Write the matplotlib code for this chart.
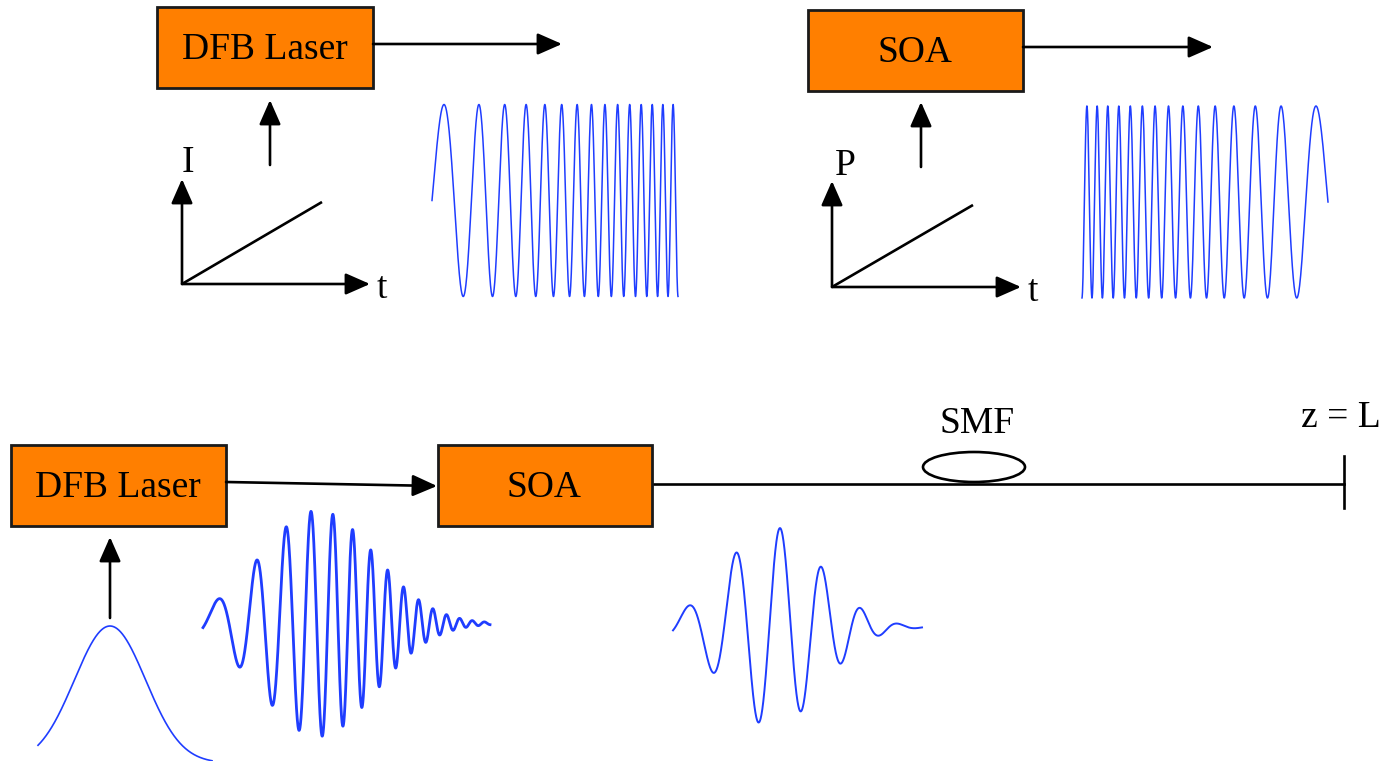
import numpy as np
import matplotlib
matplotlib.use("Agg")
import matplotlib.pyplot as plt
from matplotlib.patches import Rectangle, Ellipse

# ---------------- content / values ----------------
box_labels = ["DFB Laser", "SOA", "DFB Laser", "SOA"]
axis_labels_y = ["I", "P"]
axis_label_x = "t"
fiber_label = "SMF"
end_label = "z = L"

# chirped CW signal (top): phase = 2*pi*(f0*u + k*u^2), u in px
cw_f0 = 0.0188
cw_k = 1.672e-4
cw_amp = 96.0

# gaussian drive current (bottom)
gauss_amp = 137.0
gauss_sigma = 35.6

# chirped pulse out of DFB (bottom middle): half-cycles m = c1*dx + c2*dx^2
pulse1_c1, pulse1_c2 = 0.0428, 2.337e-4
pulse1_amp, pulse1_sigma = 113.0, 57.0

# pulse after SOA (bottom right)
pulse2_c1, pulse2_c2 = 0.0402, 3.5e-5
pulse2_amp, pulse2_sigma = 100.0, 48.0

# ---------------- styling ----------------
ORANGE = "#FF7F00"
EDGE = "#1a1a1a"
BLUE = "#1f3dff"
FONT = ["Liberation Serif", "DejaVu Serif"]
FS = 27

fig = plt.figure(figsize=(13.84, 7.61), dpi=100)
ax = fig.add_axes([0, 0, 1, 1])
ax.set_xlim(0, 1384)
ax.set_ylim(761, 0)
ax.axis("off")


def box(x0, y0, x1, y1, label, tx, ty):
    ax.add_patch(Rectangle((x0, y0), x1 - x0, y1 - y0, facecolor=ORANGE,
                           edgecolor=EDGE, lw=2.0, zorder=2))
    ax.text(tx, ty, label, ha="center", va="baseline", fontsize=FS,
            family=FONT, color="black", zorder=3)


def arrow(x0, y0, x1, y1):
    ax.annotate("", xy=(x1, y1), xytext=(x0, y0),
                arrowprops=dict(arrowstyle="-|>,head_length=0.75,head_width=0.33",
                                lw=1.9, color="black", shrinkA=0, shrinkB=0,
                                mutation_scale=20), zorder=3)


def label(x, y, s):
    ax.text(x, y, s, ha="center", va="baseline", fontsize=FS, family=FONT,
            color="black")


# ---------------- top-left: DFB laser with ramp current ----------------
box(157, 7, 373, 88, box_labels[0], 265, 59)
arrow(373, 44, 562, 44)
arrow(270, 165, 270, 100)
arrow(182, 284, 182, 179)
arrow(182, 284, 370, 284)
ax.plot([182, 322], [284, 202], color="black", lw=1.9, solid_capstyle="butt")
label(188, 172, axis_labels_y[0])
label(382, 298, axis_label_x)

u = np.linspace(0, 246, 3000)
cw = np.sin(2 * np.pi * (cw_f0 * u + cw_k * u ** 2))
ax.plot(432 + u, 200.5 - cw_amp * cw, color=BLUE, lw=1.1)

# ---------------- top-right: SOA with ramp power ----------------
box(808, 10, 1023, 91, box_labels[1], 915, 62)
arrow(1023, 47, 1213, 47)
arrow(921, 167, 921, 102)
arrow(832, 287, 832, 181)
arrow(832, 287, 1021, 287)
ax.plot([832, 973], [287, 205], color="black", lw=1.9, solid_capstyle="butt")
label(845, 175, axis_labels_y[1])
label(1033, 301, axis_label_x)

ax.plot(1328 - u, 202.0 - cw_amp * cw, color=BLUE, lw=1.1)

# ---------------- bottom: pulsed DFB -> SOA -> SMF ----------------
box(11, 445, 226, 526, box_labels[2], 118, 497)
box(438, 445, 652, 526, box_labels[3], 544, 497)
arrow(226, 482, 437, 486)
arrow(110, 618, 110, 537)
ax.plot([652, 1344], [484, 484], color="black", lw=1.9, zorder=1)
ax.plot([1344, 1344], [456, 508], color="black", lw=1.9)
ax.add_patch(Ellipse((974, 467), 102, 30, fill=False, edgecolor="black", lw=1.9))
label(977, 433, fiber_label)
label(1341, 427, end_label)

# gaussian current pulse
xg = np.linspace(38, 212, 800)
ax.plot(xg, 763 - gauss_amp * np.exp(-(xg - 110) ** 2 / (2 * gauss_sigma ** 2)),
        color=BLUE, lw=1.2)

# chirped pulse from DFB
xp = np.linspace(203, 490, 3000)
dx = xp - 218
m1 = pulse1_c1 * dx + pulse1_c2 * dx ** 2
env1 = np.exp(-(xp - 318) ** 2 / (2 * pulse1_sigma ** 2))
ax.plot(xp, 623.5 - pulse1_amp * env1 * np.cos(np.pi * m1), color=BLUE, lw=2.0)

# pulse after SOA
xq = np.linspace(673, 922, 2000)
dq = xq - 688
m2 = pulse2_c1 * dq + pulse2_c2 * dq ** 2
env2 = np.exp(-(xq - 773) ** 2 / (2 * pulse2_sigma ** 2))
ax.plot(xq, 627 - pulse2_amp * env2 * np.cos(np.pi * m2), color=BLUE, lw=1.4)

fig.savefig("out.png", dpi=100, facecolor="white")
